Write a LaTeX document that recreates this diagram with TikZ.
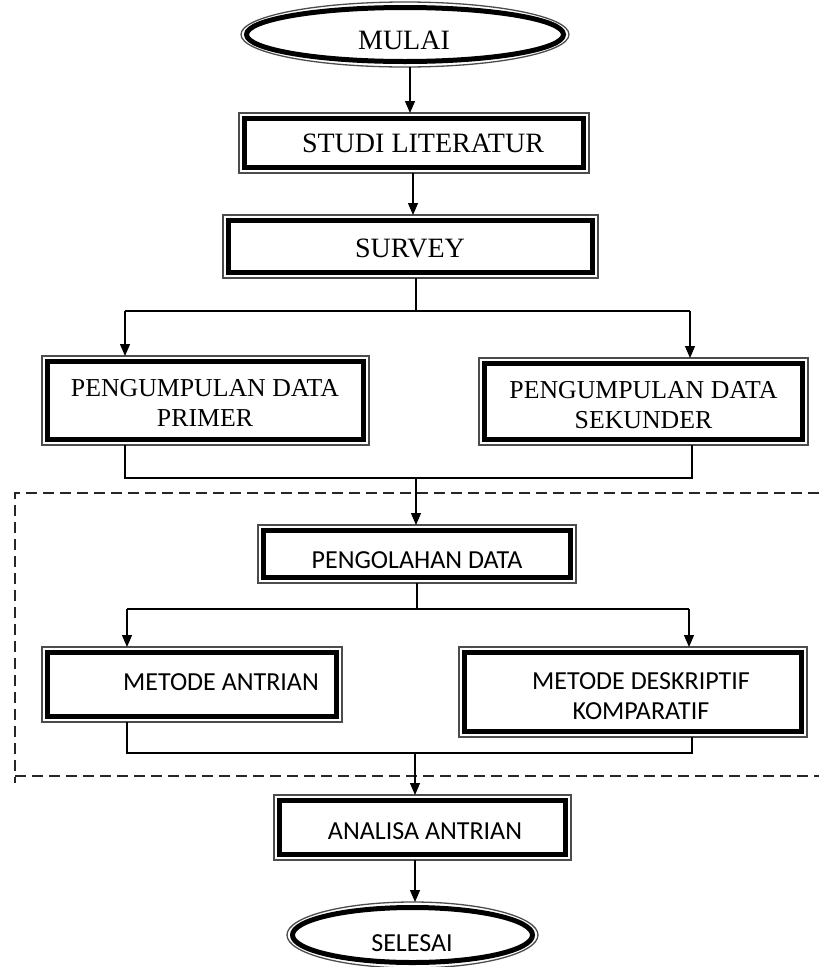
\documentclass[tikz,border=0pt]{standalone}
\usepackage{fontspec}
\setmainfont{Liberation Serif}
\newfontfamily\calib{Carlito}
\usetikzlibrary{arrows.meta,shapes.geometric}
\begin{document}
\begin{tikzpicture}[x=1pt,y=-1pt,
  outerbox/.style={draw=black!70, line width=1.3pt, rectangle, inner sep=0pt, outer sep=0pt, fill=white},
  outerell/.style={draw=black!70, line width=1.3pt, ellipse, inner sep=0pt, outer sep=0pt, fill=white},
  thickln/.style={line width=5pt, black},
  conn/.style={line width=1.2pt, black},
  arr/.style={conn, -{Triangle[length=12pt,width=10pt]}},
  serifbig/.style={font=\fontsize{28}{30}\selectfont, align=center, inner sep=0pt},
  serifmid/.style={font=\fontsize{25.8}{30}\selectfont, align=center, inner sep=0pt},
  sanstxt/.style={font=\calib\fontsize{26}{30}\selectfont, align=center, inner sep=0pt},
  dashbox/.style={line width=1.3pt, dash pattern=on 11pt off 6pt, black!85}]

\useasboundingbox (0,0) rectangle (819,967);

% dashed frame
\draw[dashbox] (819,493) -- (15,493) -- (15,783);
\draw[dashbox] (15,776) -- (819,776);

% shapes
\node[outerell, minimum width=328pt, minimum height=65pt] (mulai) at (405,34.5) {};
\node[outerbox, minimum width=350pt, minimum height=60pt] (studi) at (414,143) {};
\node[outerbox, minimum width=375pt, minimum height=63pt] (survey) at (410.5,246.5) {};
\node[outerbox, minimum width=327pt, minimum height=89pt] (primer) at (205.5,400.5) {};
\node[outerbox, minimum width=329pt, minimum height=87pt] (sekunder) at (643.5,401.5) {};
\node[outerbox, minimum width=318pt, minimum height=58pt] (olah) at (417,554) {};
\node[outerbox, minimum width=300pt, minimum height=75pt] (antrian) at (192,684.5) {};
\node[outerbox, minimum width=348pt, minimum height=90pt] (deskrip) at (633,692) {};
\node[outerbox, minimum width=297pt, minimum height=65pt] (analisa) at (422.5,827.5) {};
\node[outerell, minimum width=251pt, minimum height=66pt] (selesai) at (412.5,935) {};

\foreach \n in {studi,survey,primer,sekunder,olah,antrian,deskrip,analisa}
  \draw[thickln] ([xshift=5.5pt,yshift=-5.5pt]\n.north west) rectangle ([xshift=-5.5pt,yshift=5.5pt]\n.south east);
\draw[thickln] (mulai.center) ellipse [x radius=158.5pt, y radius=27pt];
\draw[thickln] (selesai.center) ellipse [x radius=120pt, y radius=27.5pt];

% texts
\node[serifbig] (tmulai) at (404,40) {MULAI};
\node[serifbig] (tstudi) at (423,143) {STUDI LITERATUR};
\node[serifbig] (tsurvey) at (410,248) {SURVEY};
\node[serifmid] (tprimer) at (205,403) {PENGUMPULAN DATA\\PRIMER};
\node[serifmid] (tsekunder) at (643.5,405) {PENGUMPULAN DATA\\SEKUNDER};
\node[sanstxt] (tolah) at (417,560) {PENGOLAHAN DATA};
\node[sanstxt] (tantrian) at (221,682) {METODE ANTRIAN};
\node[sanstxt] (tdeskrip) at (641,696) {METODE DESKRIPTIF\\KOMPARATIF};
\node[sanstxt] (tanalisa) at (425,831) {ANALISA ANTRIAN};
\node[sanstxt] (tselesai) at (412,943) {SELESAI};

% connectors
\draw[arr] ([xshift=5pt]mulai.south) -- ([xshift=-4pt]studi.north);
\draw[arr] ([xshift=-1pt]studi.south) -- ([xshift=2.5pt]survey.north);

\coordinate (j1) at (416,311);
\coordinate (jl) at (125,311);
\coordinate (jr) at (690,311);
\draw[conn] (survey.south -| j1) -- (j1);
\draw[conn] (jl) -- (jr);
\draw[arr] (jl) -- (jl |- primer.north);
\draw[arr] (jr) -- (jr |- sekunder.north);

\coordinate (m1l) at (125,478);
\coordinate (m1r) at (692,478);
\coordinate (m1) at (416,478);
\draw[conn] (primer.south -| m1l) -- (m1l) -- (m1r) -- (sekunder.south -| m1r);
\draw[arr] (m1) -- (m1 |- olah.north);

\coordinate (j2) at (417,609);
\coordinate (j2l) at (127,609);
\coordinate (j2r) at (689,609);
\draw[conn] (olah.south -| j2) -- (j2);
\draw[conn] (j2l) -- (j2r);
\draw[arr] (j2l) -- (j2l |- antrian.north);
\draw[arr] (j2r) -- (j2r |- deskrip.north);

\coordinate (m2l) at (127,753);
\coordinate (m2r) at (692,753);
\coordinate (m2) at (415,753);
\draw[conn] (antrian.south -| m2l) -- (m2l) -- (m2r) -- (deskrip.south -| m2r);
\draw[arr] (m2) -- (m2 |- analisa.north);
\draw[arr] ([xshift=-7.5pt]analisa.south) -- ([xshift=2.5pt]selesai.north);
\end{tikzpicture}
\end{document}
